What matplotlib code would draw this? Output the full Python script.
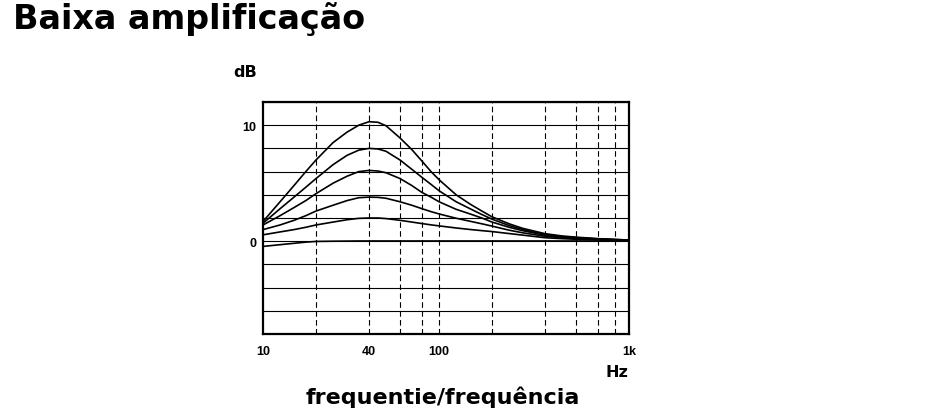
import matplotlib.pyplot as plt
import numpy as np

plt.rcParams['font.family'] = ['Liberation Sans', 'DejaVu Sans']

freq = [10, 12.5, 15, 17.5, 20, 25, 30, 35, 40, 45, 50, 60, 70, 80, 90, 100,
        125, 150, 175, 200, 250, 300, 400, 500, 600, 800, 1000, 1200]

# gain in dB for each curve (top to bottom)
gain_10 = [1.7, 3.4, 4.8, 6.0, 7.0, 8.5, 9.4, 10.0, 10.3, 10.25, 9.95, 8.9, 7.9, 6.9, 6.0, 5.3,
           4.0, 3.2, 2.6, 2.1, 1.5, 1.1, 0.65, 0.45, 0.35, 0.22, 0.15, 0.1]
gain_8 = [1.55, 2.8, 3.8, 4.65, 5.4, 6.6, 7.4, 7.85, 8.0, 7.95, 7.75, 7.0, 6.2, 5.5, 4.9, 4.35,
          3.4, 2.8, 2.3, 1.9, 1.35, 1.0, 0.58, 0.4, 0.3, 0.2, 0.14, 0.1]
gain_6 = [1.4, 2.2, 2.9, 3.5, 4.1, 5.0, 5.6, 6.0, 6.1, 6.05, 5.9, 5.4, 4.8, 4.2, 3.8, 3.4,
          2.75, 2.35, 2.0, 1.65, 1.2, 0.9, 0.52, 0.37, 0.28, 0.18, 0.13, 0.09]
gain_4 = [1.0, 1.4, 1.8, 2.2, 2.6, 3.1, 3.5, 3.75, 3.8, 3.78, 3.7, 3.4, 3.1, 2.8, 2.55, 2.35,
          1.98, 1.72, 1.5, 1.3, 0.95, 0.72, 0.42, 0.3, 0.23, 0.15, 0.11, 0.08]
gain_2 = [0.55, 0.8, 1.0, 1.2, 1.4, 1.65, 1.85, 1.97, 2.0, 2.0, 1.95, 1.8, 1.65, 1.52, 1.41, 1.32,
          1.14, 1.01, 0.91, 0.83, 0.66, 0.52, 0.3, 0.22, 0.17, 0.11, 0.08, 0.06]
gain_0 = [-0.45, -0.3, -0.18, -0.08, -0.02, 0.0, 0.01, 0.02, 0.02, 0.02, 0.02, 0.02, 0.02, 0.02, 0.02, 0.02,
          0.02, 0.02, 0.02, 0.02, 0.02, 0.02, 0.02, 0.02, 0.02, 0.02, 0.02, 0.02]
curves = [gain_10, gain_8, gain_6, gain_4, gain_2, gain_0]

# dashed vertical grid frequencies
vgrid = [20, 40, 60, 80, 100, 200, 400, 600, 800, 1000]
# horizontal grid levels
hgrid = list(range(-8, 13, 2))

xtick_pos = [10, 40, 100, 1200]
xtick_lab = ['10', '40', '100', '1k']
ytick_pos = [0, 10]
ytick_lab = ['0', '10']

fig = plt.figure(figsize=(9.34, 4.10), dpi=100)
ax = fig.add_axes([0.2816, 0.1829, 0.3919, 0.5659])
ax.set_xscale('log')
ax.set_xlim(10, 1200)
ax.set_ylim(-8, 12)

for h in hgrid:
    ax.axhline(h, color='black', lw=0.8, zorder=1)
for v in vgrid:
    ax.axvline(v, color='black', lw=0.8, ls=(0, (5, 3)), zorder=1)

for c in curves:
    ax.plot(freq, c, color='black', lw=1.2, zorder=3)

for s in ax.spines.values():
    s.set_linewidth(1.6)

ax.set_xticks(xtick_pos)
ax.set_xticklabels(xtick_lab, fontsize=9, fontweight='bold')
ax.set_xticks([], minor=True)
ax.set_yticks(ytick_pos)
ax.set_yticklabels(ytick_lab, fontsize=9, fontweight='bold')
ax.tick_params(axis='both', length=0)
ax.tick_params(axis='x', pad=8)
ax.tick_params(axis='y', pad=5)

dv = ['DejaVu Sans']
fig.text(233 / 934, 1 - 77 / 410, 'dB', fontsize=11.5, fontweight='bold', family=dv,
         ha='left', va='baseline')
fig.text(628 / 934, 1 - 377 / 410, 'Hz', fontsize=11.5, fontweight='bold', family=dv,
         ha='right', va='baseline')
fig.text(443 / 934, 1 - 404 / 410, 'frequentie/frequência', fontsize=16, fontweight='bold',
         family=dv, ha='center', va='baseline')
fig.text(13 / 934, 1 - 29 / 410, 'Baixa amplificação', fontsize=24, fontweight='bold',
         family=dv, ha='left', va='baseline')

fig.savefig('out.png', dpi=100)
